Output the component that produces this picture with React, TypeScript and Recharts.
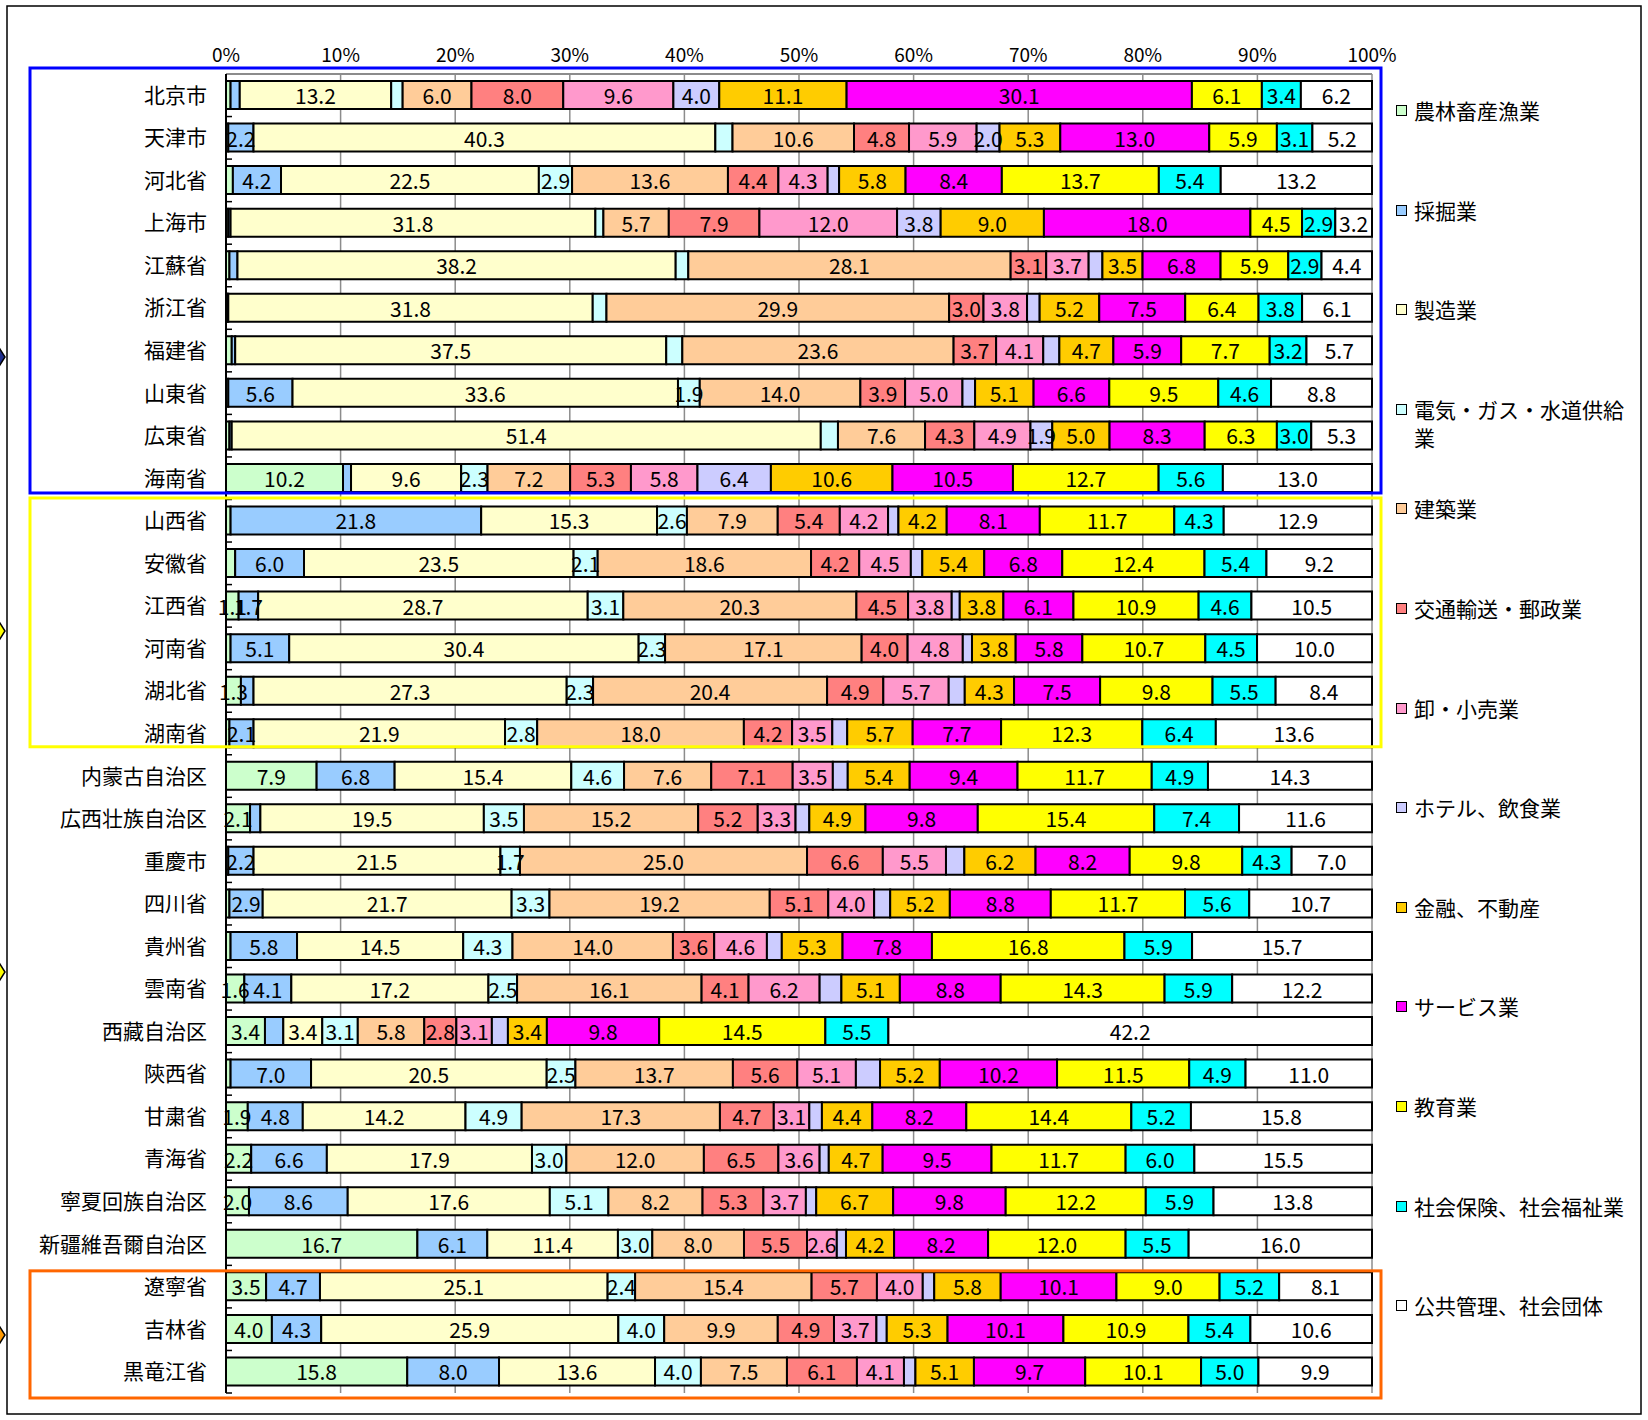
import React from 'react';
import { BarChart, Bar, XAxis, YAxis, CartesianGrid, LabelList } from 'recharts';

const provinces = ['北京市','天津市','河北省','上海市','江蘇省','浙江省','福建省','山東省','広東省','海南省','山西省','安徽省','江西省','河南省','湖北省','湖南省','内蒙古自治区','広西壮族自治区','重慶市','四川省','貴州省','雲南省','西藏自治区','陝西省','甘粛省','青海省','寧夏回族自治区','新疆維吾爾自治区','遼寧省','吉林省','黒竜江省'];

const industries = ['農林畜産漁業','採掘業','製造業','電気・ガス・水道供給業','建築業','交通輸送・郵政業','卸・小売業','ホテル、飲食業','金融、不動産','サービス業','教育業','社会保険、社会福祉業','公共管理、社会団体'];

const agri = [0.4,0.2,0.6,0.2,0.3,0.1,0.5,0.2,0.3,10.2,0.4,0.8,1.1,0.4,1.3,0.3,7.9,2.1,0.2,0.3,0.4,1.6,3.4,0.4,1.9,2.2,2.0,16.7,3.5,4.0,15.8];
const mining = [0.8,2.2,4.2,0.2,0.7,0.1,0.3,5.6,0.2,0.7,21.8,6.0,1.7,5.1,1.1,2.1,6.8,0.9,2.2,2.9,5.8,4.1,1.6,7.0,4.8,6.6,8.6,6.1,4.7,4.3,8.0];
const manufacturing = [13.2,40.3,22.5,31.8,38.2,31.8,37.5,33.6,51.4,9.6,15.3,23.5,28.7,30.4,27.3,21.9,15.4,19.5,21.5,21.7,14.5,17.2,3.4,20.5,14.2,17.9,17.6,11.4,25.1,25.9,13.6];
const utilities = [1.0,1.5,2.9,0.7,1.1,1.2,1.4,1.9,1.5,2.3,2.6,2.1,3.1,2.3,2.3,2.8,4.6,3.5,1.7,3.3,4.3,2.5,3.1,2.5,4.9,3.0,5.1,3.0,2.4,4.0,4.0];
const construction = [6.0,10.6,13.6,5.7,28.1,29.9,23.6,14.0,7.6,7.2,7.9,18.6,20.3,17.1,20.4,18.0,7.6,15.2,25.0,19.2,14.0,16.1,5.8,13.7,17.3,12.0,8.2,8.0,15.4,9.9,7.5];
const transport = [8.0,4.8,4.4,7.9,3.1,3.0,3.7,3.9,4.3,5.3,5.4,4.2,4.5,4.0,4.9,4.2,7.1,5.2,6.6,5.1,3.6,4.1,2.8,5.6,4.7,6.5,5.3,5.5,5.7,4.9,6.1];
const wholesale = [9.6,5.9,4.3,12.0,3.7,3.8,4.1,5.0,4.9,5.8,4.2,4.5,3.8,4.8,5.7,3.5,3.5,3.3,5.5,4.0,4.6,6.2,3.1,5.1,3.1,3.6,3.7,2.6,4.0,3.7,4.1];
const hotel = [4.0,2.0,1.0,3.8,1.2,1.1,1.4,1.1,1.9,6.4,0.9,1.0,0.7,0.8,1.4,1.3,1.3,1.2,1.6,1.4,1.3,1.9,1.4,2.1,1.1,0.8,0.9,0.8,1.0,0.9,1.0];
const finance = [11.1,5.3,5.8,9.0,3.5,5.2,4.7,5.1,5.0,10.6,4.2,5.4,3.8,3.8,4.3,5.7,5.4,4.9,6.2,5.2,5.3,5.1,3.4,5.2,4.4,4.7,6.7,4.2,5.8,5.3,5.1];
const service = [30.1,13.0,8.4,18.0,6.8,7.5,5.9,6.6,8.3,10.5,8.1,6.8,6.1,5.8,7.5,7.7,9.4,9.8,8.2,8.8,7.8,8.8,9.8,10.2,8.2,9.5,9.8,8.2,10.1,10.1,9.7];
const education = [6.1,5.9,13.7,4.5,5.9,6.4,7.7,9.5,6.3,12.7,11.7,12.4,10.9,10.7,9.8,12.3,11.7,15.4,9.8,11.7,16.8,14.3,14.5,11.5,14.4,11.7,12.2,12.0,9.0,10.9,10.1];
const welfare = [3.4,3.1,5.4,2.9,2.9,3.8,3.2,4.6,3.0,5.6,4.3,5.4,4.6,4.5,5.5,6.4,4.9,7.4,4.3,5.6,5.9,5.9,5.5,4.9,5.2,6.0,5.9,5.5,5.2,5.4,5.0];
const publicAdmin = [6.2,5.2,13.2,3.2,4.4,6.1,5.7,8.8,5.3,13.0,12.9,9.2,10.5,10.0,8.4,13.6,14.3,11.6,7.0,10.7,15.7,12.2,42.2,11.0,15.8,15.5,13.8,16.0,8.1,10.6,9.9];

// rows whose value label is not shown in the original
const agriUnlabeled = [0,1,2,3,4,5,6,7,8,10,11,13,15,18,19,20,23];
const miningUnlabeled = [0,3,4,5,6,8,9,14,17,22];
const utilitiesUnlabeled = [0,1,3,4,5,6,8];
const hotelLabeled = [0,1,3,8,9];

const xTickLabels = [0,10,20,30,40,50,60,70,80,90,100];

const seriesValues = [agri,mining,manufacturing,utilities,construction,transport,wholesale,hotel,finance,service,education,welfare,publicAdmin];
const unlabeled: number[][] = [
  agriUnlabeled, miningUnlabeled, [], utilitiesUnlabeled, [], [], [],
  provinces.map((_, i) => i).filter(i => !hotelLabeled.includes(i)),
  [], [], [], [], []
];

const colors = ['#CCFFCC','#99CCFF','#FFFFCC','#CCFFFF','#FFCC99','#FF8080','#FF99CC','#CCCCFF','#FFCC00','#FF00FF','#FFFF00','#00FFFF','#FFFFFF'];

const table = provinces.map((name, i) => {
  const row: Record<string, string | number> = { name };
  seriesValues.forEach((vals, s) => {
    row['s' + s] = vals[i];
    row['s' + s + '_lbl'] = unlabeled[s].includes(i) ? '' : vals[i].toFixed(1);
  });
  return row;
});

const W = 1648;
const H = 1420;
const PLOT_LEFT = 226;
const PLOT_RIGHT = 1372;
const PLOT_TOP = 74;
const PLOT_BOTTOM = 1393;
const PITCH = (PLOT_BOTTOM - PLOT_TOP) / provinces.length;
const rowTop = (i: number) => PLOT_TOP + i * PITCH;

const NUM_FONT = "'Liberation Sans Narrow', 'Noto Sans CJK JP', sans-serif";
const CJK_FONT = "'Noto Sans CJK JP', sans-serif";

const renderValueLabel = (props: any) => {
  const { x, y, width, height, value } = props;
  if (value === '' || value === undefined || value === null) return null;
  return (
    <text
      x={Number(x) + Number(width) / 2}
      y={Number(y) + Number(height) / 2}
      textAnchor="middle"
      dominantBaseline="central"
      fontSize={21}
      fontFamily={NUM_FONT}
      fill="#000"
    >
      {value}
    </text>
  );
};

// partially visible arrow heads at the left edge of the frame
const edgeMarkers = [
  { y: 357, fill: '#1f2f8f' },
  { y: 631, fill: '#FFFF00' },
  { y: 972, fill: '#FFFF00' },
  { y: 1335, fill: '#FF9900' },
];

export default function App() {
  return (
    <div style={{ position: 'absolute', left: 0, top: 0, width: W, height: H, background: '#fff' }}>
      <BarChart
        width={W}
        height={H}
        data={table}
        layout="vertical"
        stackOffset="expand"
        barSize={28}
        margin={{ top: 30, right: W - PLOT_RIGHT, bottom: H - PLOT_BOTTOM, left: 0 }}
      >
        <CartesianGrid horizontal={false} stroke="#8c8c8c" strokeWidth={1.5} />
        <XAxis
          type="number"
          orientation="top"
          domain={[0, 1]}
          ticks={xTickLabels.map(t => t / 100)}
          tickFormatter={(v: number) => Math.round(v * 100) + '%'}
          axisLine={{ stroke: '#8c8c8c', strokeWidth: 2 }}
          tickLine={false}
          tickSize={0}
          tickMargin={12}
          height={PLOT_TOP - 30}
          tick={{ fontSize: 19, fontFamily: NUM_FONT, fill: '#000' }}
        />
        <YAxis
          type="category"
          dataKey="name"
          width={PLOT_LEFT}
          interval={0}
          axisLine={{ stroke: '#000', strokeWidth: 2 }}
          tickLine={false}
          tickSize={0}
          tickMargin={19}
          tick={{ fontSize: 21, fontFamily: CJK_FONT, fill: '#000' }}
        />
        {seriesValues.map((_, s) => (
          <Bar
            key={s}
            dataKey={'s' + s}
            name={industries[s]}
            stackId="a"
            fill={colors[s]}
            stroke="#000"
            strokeWidth={2}
            isAnimationActive={false}
          >
            <LabelList dataKey={'s' + s + '_lbl'} content={renderValueLabel} />
          </Bar>
        ))}
      </BarChart>

      <svg width={W} height={H} style={{ position: 'absolute', left: 0, top: 0, pointerEvents: 'none' }}>
        <rect x={7} y={6} width={W - 14} height={H - 12} fill="none" stroke="#000" strokeWidth={1.5} />
        {provinces.map((_, i) => (
          <line key={i} x1={PLOT_LEFT} x2={PLOT_LEFT + 6} y1={rowTop(i + 1)} y2={rowTop(i + 1)} stroke="#000" strokeWidth={1.5} />
        ))}
        <rect x={30} y={rowTop(0) - 6} width={1381 - 30} height={rowTop(10) - 6.5 - (rowTop(0) - 6)} fill="none" stroke="#0000FF" strokeWidth={3} />
        <rect x={30} y={rowTop(10) - 1.5} width={1381 - 30} height={rowTop(16) - 8 - (rowTop(10) - 1.5)} fill="none" stroke="#FFFF00" strokeWidth={3} />
        <rect x={30} y={rowTop(28) + 5.5} width={1381 - 30} height={rowTop(31) + 5 - (rowTop(28) + 5.5)} fill="none" stroke="#FF6600" strokeWidth={3} />
        {edgeMarkers.map((m, k) => (
          <polygon key={k} points={`-2,${m.y - 11} 5,${m.y} -2,${m.y + 11}`} fill={m.fill} stroke="#000" strokeWidth={1.5} />
        ))}
      </svg>

      <div style={{ position: 'absolute', left: 1396, top: 0, width: 240 }}>
        {industries.map((name, k) => (
          <div key={name} style={{ position: 'absolute', left: 0, top: 110 + k * 99.6 - 14, display: 'flex', alignItems: 'flex-start' }}>
            <div style={{ width: 9, height: 9, marginTop: 9, background: colors[k], border: '1.5px solid #000', flexShrink: 0 }} />
            <div style={{ marginLeft: 7, width: 216, fontFamily: CJK_FONT, fontSize: 21, lineHeight: '28px', color: '#000' }}>{name}</div>
          </div>
        ))}
      </div>
    </div>
  );
}
